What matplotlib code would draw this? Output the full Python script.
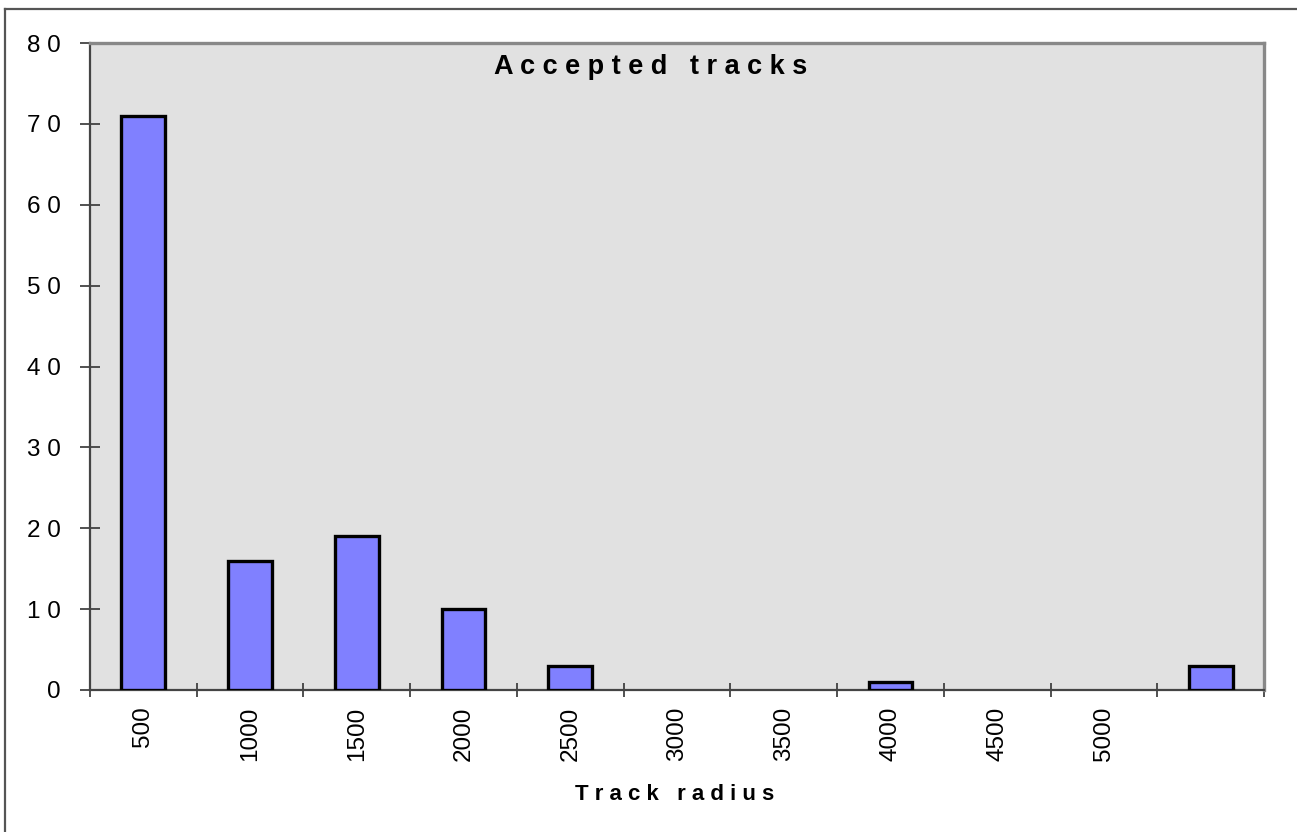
import matplotlib.pyplot as plt
import numpy as np
from matplotlib.lines import Line2D

plt.rcParams['font.family'] = ['Liberation Sans', 'DejaVu Sans']

# histogram bins and counts
bin_labels = ['500', '1000', '1500', '2000', '2500', '3000', '3500',
              '4000', '4500', '5000', '']
counts = [71, 16, 19, 10, 3, 0, 0, 1, 0, 0, 3]
y_ticks = [0, 10, 20, 30, 40, 50, 60, 70, 80]


def spaced(s, gap=' '):
    # Excel-ish letter spacing
    return gap.join(s).replace(gap + ' ' + gap, '   ')


fig = plt.figure(figsize=(12.97, 8.32), dpi=100)
ax = fig.add_axes([90 / 1297, 1 - 690 / 832, (1264 - 90) / 1297, (690 - 43) / 832])
ax.set_facecolor('#e1e1e1')

x = np.arange(len(counts))
# empty bins get no outline
lws = [2.4 if c > 0 else 0 for c in counts]
ax.bar(x, counts, width=0.41, color='#8080ff', edgecolor='black', linewidth=lws, zorder=3)

ax.set_xlim(-0.5, len(counts) - 0.5)
ax.set_ylim(0, 80)

# boundaries get the tick marks, centers get the labels
ax.set_xticks(np.arange(len(counts) + 1) - 0.5)
ax.set_xticklabels([])
ax.set_xticks(x, minor=True)
ax.set_xticklabels(bin_labels, minor=True, rotation=90, fontsize=17.5, va='top')
ax.tick_params(axis='x', which='major', direction='inout', length=10, width=1.2, color='#333333')
ax.tick_params(axis='x', which='minor', length=0, pad=12)

ax.set_yticks(y_ticks)
ax.set_yticklabels([spaced(str(v)) for v in y_ticks], fontsize=17.5)
ax.tick_params(axis='y', direction='inout', length=14.4, width=1.2, color='#333333', pad=14)

for side in ['left', 'bottom']:
    ax.spines[side].set_color('#444444')
    ax.spines[side].set_linewidth(1.6)
for side in ['top', 'right']:
    ax.spines[side].set_color('#888888')
    ax.spines[side].set_linewidth(2.4)

fig.text(651 / 1297, 1 - 67 / 832, spaced('Accepted tracks'), fontsize=19.5,
         fontweight='bold', ha='center', va='center')
fig.text(675 / 1297, 1 - 795 / 832, spaced('Track radius'), fontsize=16,
         fontweight='bold', ha='center', va='center')

# outer chart frame (only top and left visible)
fig.add_artist(Line2D([5 / 1297, 1.01], [1 - 9 / 832, 1 - 9 / 832], color='#555555', lw=1.6))
fig.add_artist(Line2D([5 / 1297, 5 / 1297], [1 - 9 / 832, -0.01], color='#555555', lw=1.6))

fig.savefig('out.png', dpi=100)
